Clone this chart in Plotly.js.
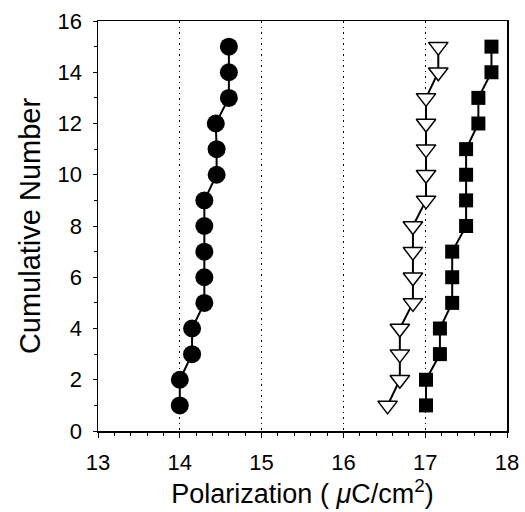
<!DOCTYPE html>
<html>
<head>
<meta charset="utf-8">
<script src="https://cdn.plot.ly/plotly-3.0.1.min.js"></script>
<style>html,body{margin:0;padding:0;background:#fff;}#chart{width:525px;height:512px;}</style>
</head>
<body>
<div id="chart"></div>
<script>
var cumulative = [1,2,3,4,5,6,7,8,9,10,11,12,13,14,15];
var circleX   = [14.0,14.0,14.15,14.15,14.3,14.3,14.3,14.3,14.3,14.45,14.45,14.44,14.6,14.6,14.6];
var triangleX = [16.54,16.69,16.69,16.69,16.85,16.85,16.85,16.85,17.01,17.01,17.01,17.01,17.01,17.16,17.16];
var squareX   = [17.01,17.01,17.18,17.18,17.33,17.33,17.33,17.5,17.5,17.5,17.5,17.65,17.65,17.81,17.81];
var xTicks = [13,14,15,16,17,18];
var yTicks = [0,2,4,6,8,10,12,14,16];

var traces = [
  {x: circleX, y: cumulative, mode: 'lines+markers', type: 'scatter',
   line: {color: '#000', width: 2},
   marker: {symbol: 'circle', size: 18, color: '#000'}},
  {x: triangleX, y: cumulative, mode: 'lines+markers', type: 'scatter',
   line: {color: '#000', width: 2},
   marker: {symbol: 'triangle-down', size: 17, color: '#fff', line: {color: '#000', width: 1.5}}},
  {x: squareX, y: cumulative, mode: 'lines+markers', type: 'scatter',
   line: {color: '#000', width: 2},
   marker: {symbol: 'square', size: 14, color: '#000'}}
];

var fam = 'Liberation Sans, Arial, sans-serif';
var layout = {
  width: 525, height: 512,
  margin: {l: 98, r: 18, t: 21, b: 81},
  paper_bgcolor: '#fff', plot_bgcolor: '#fff',
  showlegend: false,
  font: {family: fam, color: '#000'},
  xaxis: {
    range: [13, 18], tickvals: xTicks, ticktext: xTicks.map(String),
    showline: true, linecolor: '#000', linewidth: 1.5, mirror: true,
    ticks: 'outside', ticklen: 5, tickcolor: '#000',
    minor: {dtick: 0.2, ticks: 'outside', ticklen: 3, tickcolor: '#000', showgrid: false},
    showgrid: true, gridcolor: '#000', gridwidth: 1.2, griddash: '1.5px,4px',
    zeroline: false,
    ticklabelstandoff: 6,
    tickfont: {family: fam, size: 22, color: '#000'},
    title: {text: 'Polarization ( <i>μ</i>C/cm<sup>2</sup>)', font: {family: fam, size: 27, color: '#000'}, standoff: 4}
  },
  yaxis: {
    range: [0, 16], tickvals: yTicks, ticktext: yTicks.map(String),
    showline: true, linecolor: '#000', linewidth: 1.5, mirror: true,
    ticks: 'outside', ticklen: 4, tickcolor: '#000',
    minor: {dtick: 1, ticks: 'outside', ticklen: 3, tickcolor: '#000', showgrid: false},
    showgrid: false, zeroline: false,
    ticklabelstandoff: 6,
    tickfont: {family: fam, size: 22, color: '#000'},
    title: {text: 'Cumulative Number', font: {family: fam, size: 29, color: '#000'}, standoff: 8}
  }
};

Plotly.newPlot('chart', traces, layout, {displayModeBar: false, staticPlot: true});
</script>
</body>
</html>
